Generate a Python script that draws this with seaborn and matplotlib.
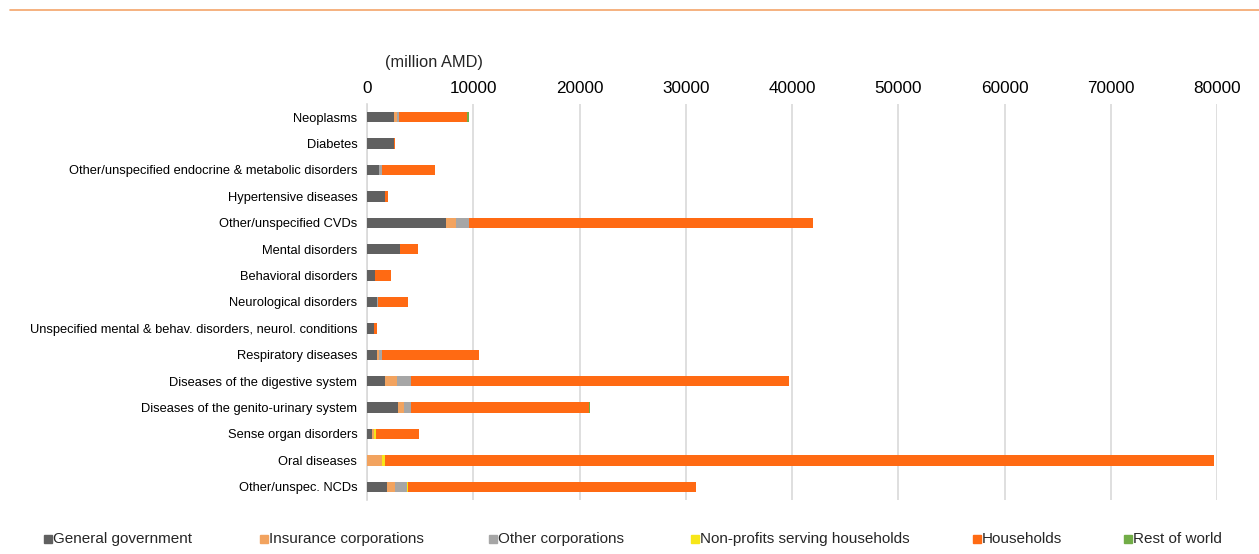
import matplotlib
matplotlib.use("Agg")
import matplotlib.pyplot as plt
from matplotlib.lines import Line2D
import seaborn as sns
import pandas as pd
import numpy as np

# Current health expenditure on NCDs by financing agent (million AMD)
categories = [
    "Neoplasms",
    "Diabetes",
    "Other/unspecified endocrine & metabolic disorders",
    "Hypertensive diseases",
    "Other/unspecified CVDs",
    "Mental disorders",
    "Behavioral disorders",
    "Neurological disorders",
    "Unspecified mental & behav. disorders, neurol. conditions",
    "Respiratory diseases",
    "Diseases of the digestive system",
    "Diseases of the genito-urinary system",
    "Sense organ disorders",
    "Oral diseases",
    "Other/unspec. NCDs",
]

general_government = [2500, 2500, 1130, 1690, 7400, 3070, 720, 910, 630, 910, 1690, 2910, 470, 0, 1850]
insurance_corporations = [300, 0, 0, 0, 1000, 0, 0, 0, 0, 220, 1130, 560, 220, 1410, 810]
other_corporations = [220, 0, 310, 0, 1190, 0, 0, 130, 0, 310, 1350, 690, 0, 0, 1100]
non_profits = [0, 0, 0, 0, 0, 0, 0, 0, 0, 0, 0, 0, 190, 280, 130]
households = [6400, 160, 4920, 250, 32400, 1760, 1530, 2850, 280, 9120, 35530, 16740, 3980, 78010, 27110]
rest_of_world = [200, 0, 0, 0, 0, 0, 0, 0, 0, 0, 0, 100, 0, 0, 0]

series_names = [
    "General government",
    "Insurance corporations",
    "Other corporations",
    "Non-profits serving households",
    "Households",
    "Rest of world",
]
series_values = [general_government, insurance_corporations, other_corporations,
                 non_profits, households, rest_of_world]
series_colors = ["#606060", "#f2a35f", "#a6a6a6", "#f7e619", "#ff6a13", "#72ad47"]

x_ticks = [0, 10000, 20000, 30000, 40000, 50000, 60000, 70000, 80000]

df = pd.DataFrame({name: vals for name, vals in zip(series_names, series_values)})
df.insert(0, "category", categories)
cum = df[series_names].cumsum(axis=1)

sns.set_theme(style="white")
plt.rcParams["font.family"] = ["Liberation Sans", "DejaVu Sans"]

fig = plt.figure(figsize=(12.59, 5.54), dpi=100)
ax = fig.add_axes([367 / 1259, 1 - 500 / 554, (1217 - 367) / 1259, (500 - 104) / 554])

# Stacked bars: draw cumulative totals from the outermost segment inwards
for name, color in reversed(list(zip(series_names, series_colors))):
    sns.barplot(x=cum[name], y=df["category"], orient="h", color=color,
                width=0.4, linewidth=0, saturation=1, ax=ax, zorder=3)

ax.set_xlim(0, 80000)
ax.set_xticks(x_ticks)
ax.set_xticklabels([str(t) for t in x_ticks])
ax.xaxis.tick_top()
ax.tick_params(axis="x", length=0, pad=5.5, labelsize=12.3, colors="#000000")
ax.tick_params(axis="y", length=0, pad=7, labelsize=9.3, colors="#000000")
ax.set_xlabel("")
ax.set_ylabel("")
ax.grid(axis="x", color="#d9d9d9", linewidth=1.2, zorder=0)
ax.grid(axis="y", visible=False)
for side in ["top", "right", "bottom"]:
    ax.spines[side].set_visible(False)
ax.spines["left"].set_color("#d9d9d9")
ax.spines["left"].set_linewidth(1.2)
ax.set_ylim(len(categories) - 0.5, -0.5)

fig.text(385 / 1259, 1 - 62 / 554, "(million AMD)", fontsize=11.8, va="center", ha="left")

# Decorative rule across the top
fig.add_artist(Line2D([10 / 1259, 1.0], [1 - 10 / 554, 1 - 10 / 554],
                      color="#f4a46a", linewidth=1.2, transform=fig.transFigure))

# Legend row along the bottom
legend_x = [44, 260, 489, 691, 973, 1124]
legend_y = 1 - 539 / 554
for lx, name, color in zip(legend_x, series_names, series_colors):
    fig.add_artist(Line2D([(lx + 4) / 1259], [legend_y], marker="s", markersize=6,
                          color=color, linestyle="none", transform=fig.transFigure))
    fig.text((lx + 9) / 1259, legend_y, name, fontsize=11, va="center", ha="left")

fig.savefig("out.png", dpi=100)
